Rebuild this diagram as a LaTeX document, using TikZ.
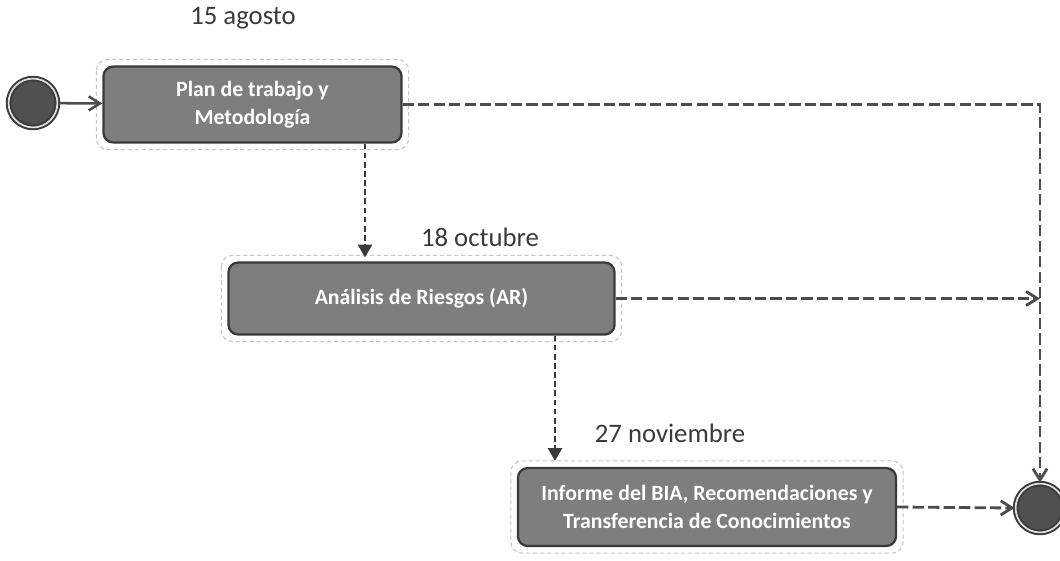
\documentclass[tikz,border=0pt]{standalone}
\usepackage{fontspec}
\setmainfont{Carlito}
\usetikzlibrary{positioning,arrows.meta,calc}
\definecolor{Ink}{HTML}{3A3A3A}
\definecolor{Stone}{HTML}{7E7E7E}
\definecolor{Coal}{HTML}{505050}

\begin{document}
\begin{tikzpicture}[
  x=0.025cm, y=-0.025cm,
  font=\fontsize{15}{19}\selectfont,
  task/.style={draw=Ink, line width=1.6pt, rounded corners=7pt, fill=Stone, text=white, font=\fontsize{15.5}{19.5}\selectfont\bfseries, align=center, inner sep=4pt},
  frame/.style={draw=gray!45, densely dashed, thick, rounded corners=8pt},
  date/.style={font=\fontsize{19}{22}\selectfont, text=Ink},
  state/.style={circle, draw=Ink, line width=1.4pt, fill=Coal, minimum size=1.22cm, inner sep=0pt, double=gray!25, double distance=1.2pt},
  flow/.style={-{Straight Barb[length=8pt,width=10pt]}, dash pattern=on 8pt off 3pt, line width=2pt, color=gray!60!black},
  down/.style={-{Triangle[length=9pt,width=10pt]}, dash pattern=on 4pt off 2.5pt, line width=1.4pt, color=Ink},
  go/.style={-{Straight Barb[length=8pt,width=10pt]}, line width=1.8pt, color=gray!60!black}
]
  \useasboundingbox (0,0) rectangle (1060,560);

  % states
  \node[state] (inicio) at (33,103) {};
  \node[state] (fin) at (1040,508) {};

  % tasks
  \node[task, minimum width=7.45cm, minimum height=1.9cm] (plan) at (252.5,104.5) {Plan de trabajo y\\Metodología};
  \node[task, minimum width=9.65cm, minimum height=1.8cm] (riesgos) at (421.5,298.5) {Análisis de Riesgos (AR)};
  \node[task, minimum width=9.45cm, minimum height=1.95cm] (informe) at (707,507) {Informe del BIA, Recomendaciones y\\Transferencia de Conocimientos};
  \foreach \n in {plan,riesgos,informe}
    \draw[frame] ($(\n.north west)+(-6,-6)$) rectangle ($(\n.south east)+(6,6)$);

  % dates
  \node[date] (agosto) at (243,18) {15 agosto};
  \node[date] (octubre) at (480,237) {18 octubre};
  \node[date] (noviembre) at (670,433) {27 noviembre};

  % connectors
  \coordinate (c1) at (365,0);
  \coordinate (c2) at (555,0);
  \draw[go] (inicio) -- (plan);
  \draw[down] (plan.south -| c1) -- ($(riesgos.north -| c1)+(0,-4)$);
  \draw[down] (riesgos.south -| c2) -- ($(informe.north -| c2)+(0,-6)$);
  \draw[flow] (plan.east) -| (fin.north);
  \draw[flow] (riesgos.east) -- (riesgos.east -| fin.north);
  \draw[flow] (informe.east) -- (fin.west);
\end{tikzpicture}
\end{document}
